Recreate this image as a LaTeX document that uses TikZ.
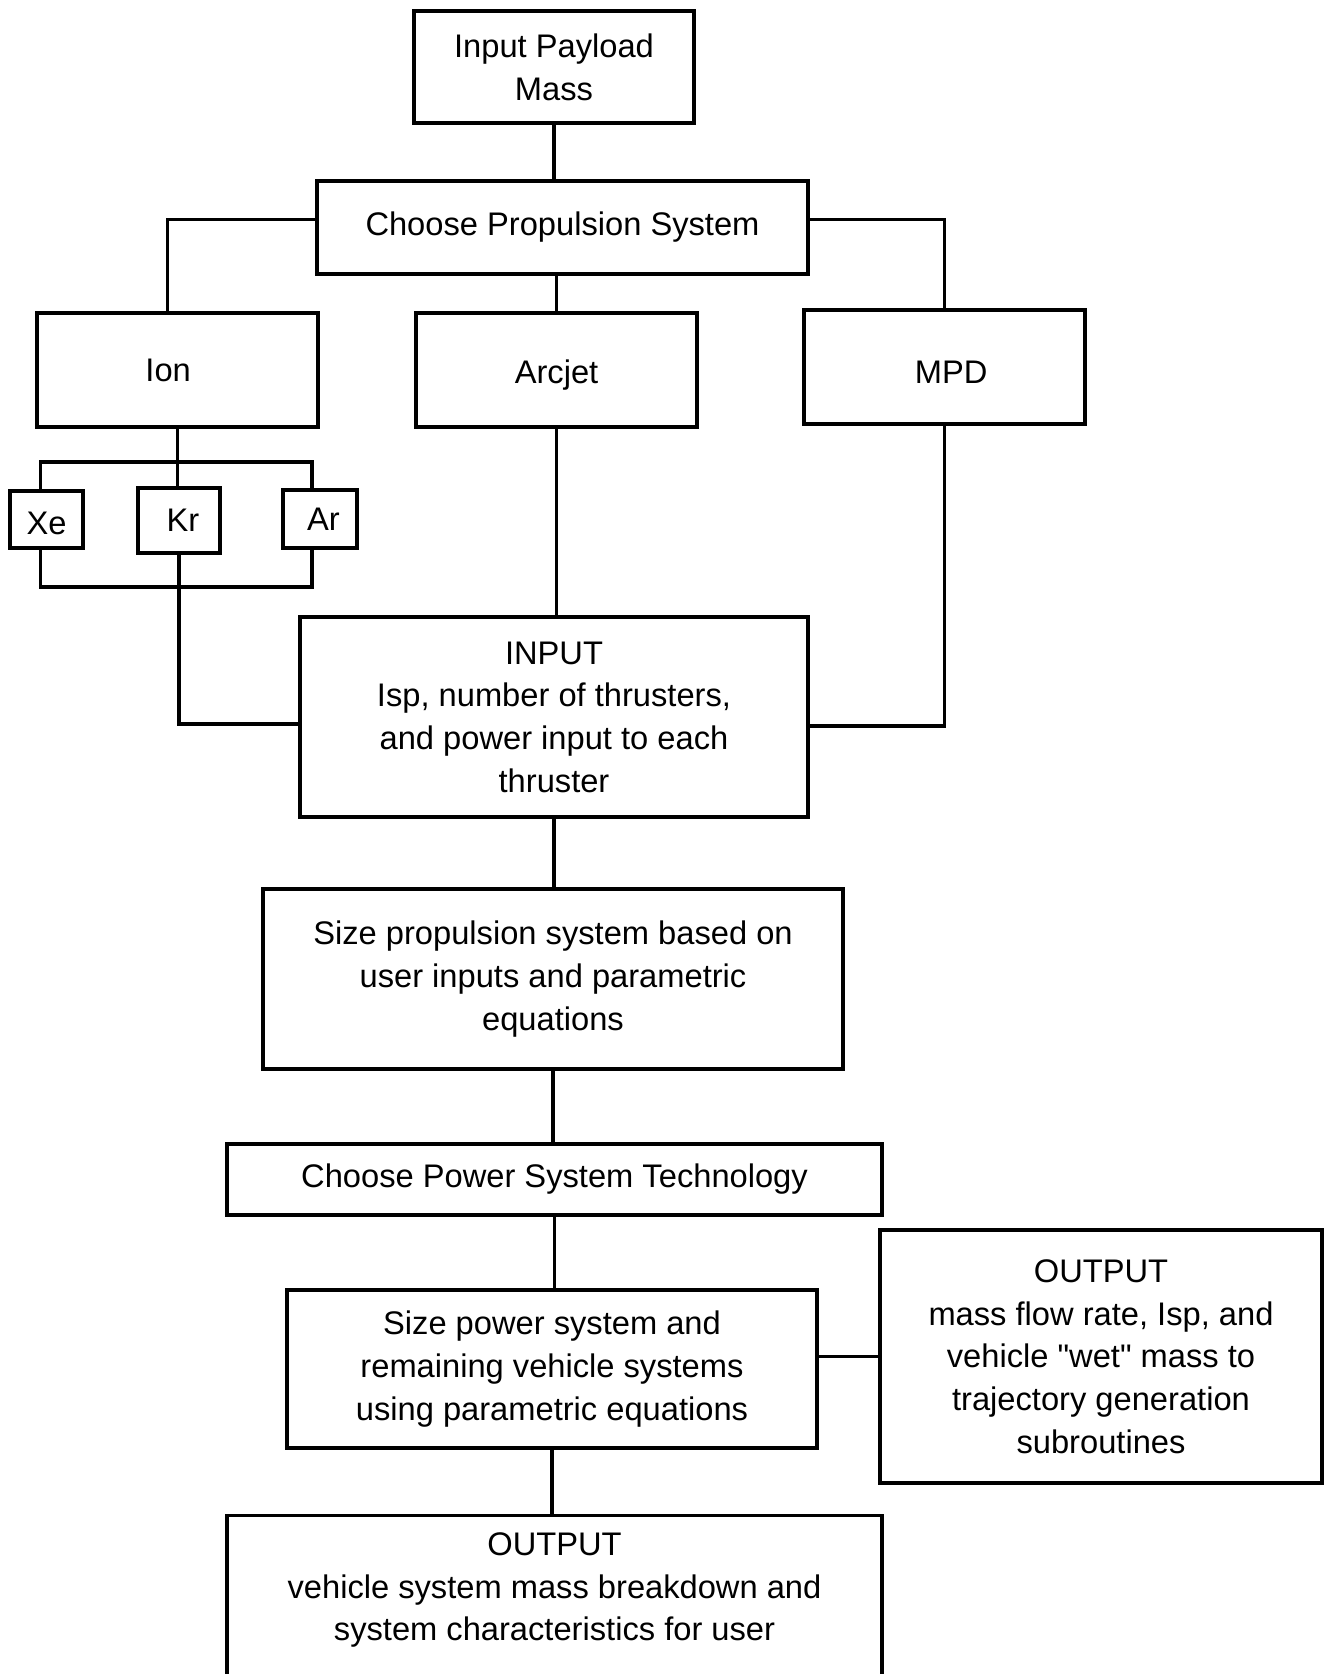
\documentclass[tikz,border=0pt]{standalone}
\usepackage{fontspec}
\setmainfont{Liberation Sans}[Ligatures=TeXOff]
\begin{document}
\begin{tikzpicture}[x=0.75pt,y=-0.75pt,
  box/.style={draw, line width=2.6pt, inner sep=0pt, align=center,
    font=\fontsize{24.5}{32}\selectfont},
  txt/.style={inner sep=0pt, align=center, font=\fontsize{24.5}{32}\selectfont},
  conn/.style={line width=2.6pt}]
\useasboundingbox (0,0) rectangle (1328,1674);
\clip (0,0) rectangle (1328,1674);

\node (pay) [box, minimum width=210pt, minimum height=84pt] at (554,67) {Input Payload\\Mass};
\node (cps) [box, minimum width=368.25pt, minimum height=69.75pt] at (562.5,227.5) {Choose Propulsion System};
\node (ion) [box, minimum width=210.75pt, minimum height=85.5pt] at (177.5,370) {Ion\hspace*{14pt}};
\node (arc) [box, minimum width=210.75pt, minimum height=85.5pt] at (556.5,370) {\raisebox{-4pt}[\height][\depth]{Arcjet}};
\node (mpd) [box, minimum width=210.75pt, minimum height=85.5pt] at (944.5,367) {\hspace*{10pt}\raisebox{-4pt}[\height][\depth]{MPD}};
\node (xe) [box, minimum width=54.75pt, minimum height=42.75pt] at (46.5,519.5) {\raisebox{-3pt}[\height][\depth]{Xe}};
\node (kr) [box, minimum width=61.5pt, minimum height=48.75pt] at (179,520.5) {\hspace*{6pt}Kr};
\node (ar) [box, minimum width=55.5pt, minimum height=43.5pt] at (320,519) {\hspace*{5pt}Ar};
\node (inp) [box, minimum width=381pt, minimum height=150pt] at (554,717) {INPUT\\Isp, number of thrusters,\\and power input to each\\thruster};
\node (szp) [box, minimum width=435pt, minimum height=135pt] at (553,979) {Size propulsion system based on\\user inputs and parametric\\equations};
\node (cpw) [box, minimum width=491.25pt, minimum height=53.25pt] at (554.5,1179.5) {Choose Power System Technology};
\node (szw) [box, minimum width=397.5pt, minimum height=118.5pt] at (552,1369) {Size power system and\\remaining vehicle systems\\using parametric equations};
\node (outr) [box, minimum width=331.5pt, minimum height=189.75pt] at (1101,1356.5) {OUTPUT\\mass flow rate, Isp, and\\vehicle "wet" mass to\\trajectory generation\\subroutines};
\node (outb) [box, minimum width=491.25pt, minimum height=180pt, anchor=north] at (554.5,1514) {};
\node (outbt) [txt] at (554.5,1590) {OUTPUT\\vehicle system mass breakdown and\\system characteristics for user};

% connectors
\draw[conn] (pay.south) -- (pay.south |- cps.north);
\draw[conn] ([shift={(0,-8)}]cps.west) -| ([shift={(-10,0)}]ion.north);
\draw[conn] ([shift={(0,-8)}]cps.east) -| (mpd.north);
\draw[conn] (arc.north |- cps.south) -- (arc.north);
\draw[conn] (arc.south) -- (arc.south |- inp.north);

\coordinate (bt) at (ion.south |- 0,462);
\coordinate (bb) at (ion.south |- 0,587);
\draw[conn] (ion.south) -- (ion.south |- kr.north);
\draw[conn] ([shift={(-6,0)}]xe.north) |- (bt) -| ([shift={(-8,0)}]ar.north);
\draw[conn] ([shift={(-6,0)}]xe.south) |- (bb) -| ([shift={(-8,0)}]ar.south);
\draw[conn] (kr.south) |- ([shift={(0,7)}]inp.west);
\draw[conn] (mpd.south) |- ([shift={(0,9)}]inp.east);

\draw[conn] (inp.south) -- (inp.south |- szp.north);
\draw[conn] (szp.south) -- (szp.south |- cpw.north);
\draw[conn] (cpw.south) -- (cpw.south |- szw.north);
\draw[conn] (szw.east |- outr.west) -- (outr.west);
\draw[conn] (szw.south) -- (szw.south |- outb.north);
\end{tikzpicture}
\end{document}
